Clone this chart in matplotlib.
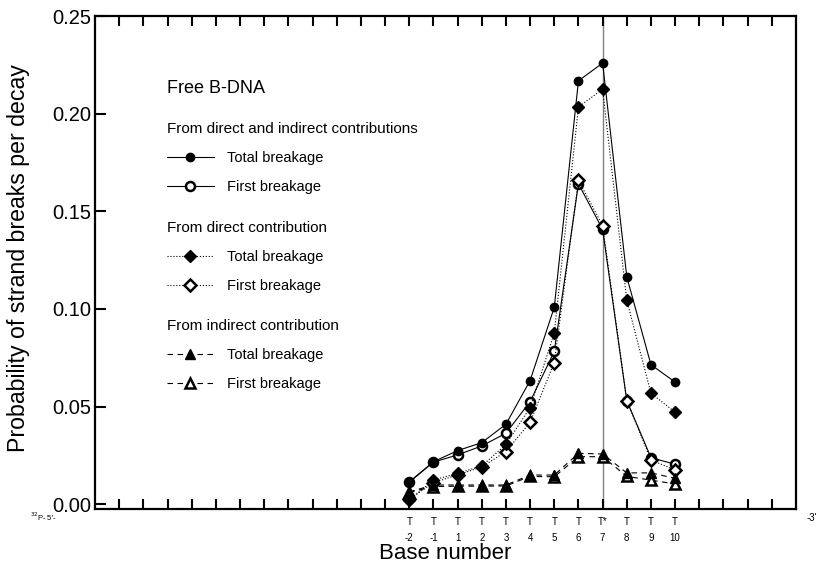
import matplotlib.pyplot as plt
from matplotlib.lines import Line2D

plt.rcParams['font.family'] = ['Liberation Sans', 'DejaVu Sans']

# base positions along the strand, T-2 ... T10
bases = ['-2', '-1', '1', '2', '3', '4', '5', '6', '7', '8', '9', '10']
base_marks = ['T', 'T', 'T', 'T', 'T', 'T', 'T', 'T', 'T*', 'T', 'T', 'T']
decay_site = '7'

# probability of strand breaks per decay
total_all = [0.0114, 0.0217, 0.0274, 0.0315, 0.0409, 0.0633, 0.1008, 0.2168, 0.2259, 0.1164, 0.0714, 0.0625]
first_all = [0.0112, 0.0215, 0.0252, 0.0298, 0.0363, 0.0525, 0.0782, 0.1641, 0.1407, 0.0530, 0.0238, 0.0204]
total_direct = [0.0021, 0.0123, 0.0158, 0.0195, 0.0306, 0.0494, 0.0876, 0.2034, 0.2125, 0.1044, 0.0568, 0.0471]
first_direct = [0.0025, 0.0110, 0.0150, 0.0190, 0.0269, 0.0419, 0.0725, 0.1658, 0.1427, 0.0530, 0.0226, 0.0175]
total_indirect = [0.0063, 0.0098, 0.0098, 0.0098, 0.0098, 0.0149, 0.0149, 0.0260, 0.0257, 0.0160, 0.0160, 0.0132]
first_indirect = [0.0060, 0.0090, 0.0092, 0.0092, 0.0093, 0.0142, 0.0140, 0.0243, 0.0243, 0.0142, 0.0123, 0.0103]

x = list(range(len(bases)))

fig = plt.figure(figsize=(8.2, 5.66), dpi=100)
ax = fig.add_axes([0.1159, 0.1007, 0.8548, 0.871])

lw = 0.8
dash = (0, (5, 4))
styles = {
    'all_total': dict(ls='-', marker='o', ms=6, mfc='black', mec='black'),
    'all_first': dict(ls='-', marker='o', ms=6.5, mfc='white', mec='black', mew=1.8),
    'dir_total': dict(ls=':', marker='D', ms=6, mfc='black', mec='black'),
    'dir_first': dict(ls=':', marker='D', ms=6.5, mfc='white', mec='black', mew=1.8),
    'ind_total': dict(ls=dash, marker='^', ms=7, mfc='black', mec='black'),
    'ind_first': dict(ls=dash, marker='^', ms=7.5, mfc='white', mec='black', mew=1.8),
}

ax.axvline(bases.index(decay_site), color='#808080', lw=1.0, zorder=1)

ax.plot(x, first_all, color='black', lw=lw, **styles['all_first'])
ax.plot(x, total_all, color='black', lw=lw, **styles['all_total'])
ax.plot(x, first_direct, color='black', lw=lw, **styles['dir_first'])
ax.plot(x, total_direct, color='black', lw=lw, **styles['dir_total'])
ax.plot(x, first_indirect, color='black', lw=lw, **styles['ind_first'])
ax.plot(x, total_indirect, color='black', lw=lw, **styles['ind_total'])

ax.set_xlim(-13, 16)
ax.set_ylim(-0.0025, 0.25)

# x ticks at every base slot, labelled only where bases are counted
xt = list(range(-12, 16))
xl = []
for t in xt:
    if 0 <= t < len(bases):
        xl.append(base_marks[t] + '\n' + bases[t])
    else:
        xl.append('')
ax.set_xticks(xt)
ax.set_xticklabels(xl, fontsize=7, linespacing=1.7)
ax.tick_params(axis='x', direction='in', length=7, width=1.5, pad=6, top=True)
ax.set_yticks([0.0, 0.05, 0.10, 0.15, 0.20, 0.25])
ax.set_yticklabels(['0.00', '0.05', '0.10', '0.15', '0.20', '0.25'], fontsize=14.5)
ax.tick_params(axis='y', direction='in', length=8, width=1.5, pad=3)
for sp in ax.spines.values():
    sp.set_linewidth(1.6)

ax.set_xlabel('Base number', fontsize=16, labelpad=0)
ax.set_ylabel('Probability of strand breaks per decay', fontsize=16.7)
ax.yaxis.set_label_coords(-0.0927, 0.51)

fig.text(0.037, 0.079, '$^{32}$P- 5\'-', fontsize=5.5)
fig.text(0.984, 0.079, '-3\'', fontsize=7)

# grouped legend blocks
def keys(a, b):
    return [Line2D([], [], color='black', lw=lw, **styles[a]),
            Line2D([], [], color='black', lw=lw, **styles[b])]

legend_kw = dict(loc='upper left', frameon=False, fontsize=10.5, title_fontsize=11,
                 alignment='left', borderpad=0, borderaxespad=0, handlelength=3.2,
                 handletextpad=0.9, labelspacing=1.02,
                 bbox_transform=fig.transFigure)
labels = ['Total breakage', 'First breakage']

fig.text(0.2037, 0.8445, 'Free B-DNA', fontsize=13, va='center')
leg1 = ax.legend(keys('all_total', 'all_first'), labels,
                 title='From direct and indirect contributions',
                 bbox_to_anchor=(0.2037, 0.7847), **legend_kw)
ax.add_artist(leg1)
leg2 = ax.legend(keys('dir_total', 'dir_first'), labels,
                 title='From direct contribution',
                 bbox_to_anchor=(0.2037, 0.6088), **legend_kw)
ax.add_artist(leg2)
ax.legend(keys('ind_total', 'ind_first'), labels,
          title='From indirect contribution',
          bbox_to_anchor=(0.2037, 0.4358), **legend_kw)

plt.savefig('out.png', dpi=100)
